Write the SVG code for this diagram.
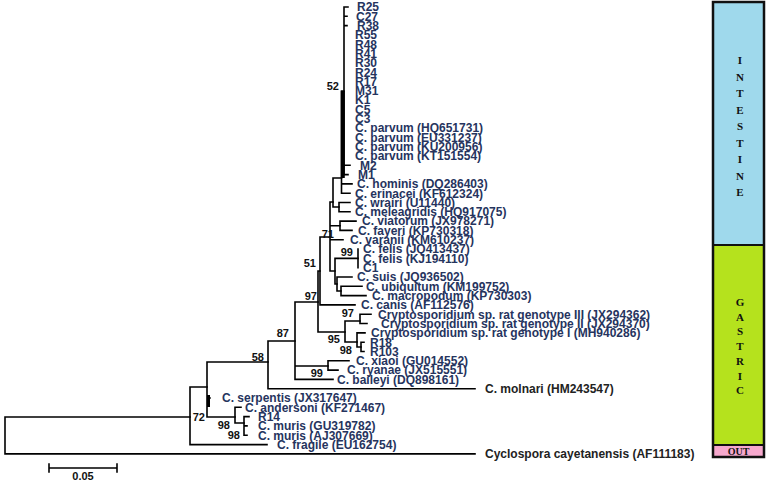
<svg xmlns="http://www.w3.org/2000/svg" width="766" height="482" viewBox="0 0 766 482">
<style>
.t{font-family:"Liberation Sans",Arial,sans-serif;font-weight:bold;font-size:12px;fill:#26345e}
.o{font-family:"Liberation Sans",Arial,sans-serif;font-weight:bold;font-size:12px;fill:#222}
.b{font-family:"Liberation Sans",Arial,sans-serif;font-weight:bold;font-size:11px;fill:#111;text-anchor:end}
.e{fill:none;stroke:#000;stroke-width:1.6;stroke-linecap:square}
.p{font-family:"Liberation Serif","Times New Roman",serif;font-weight:bold;font-size:11px;fill:#111;text-anchor:middle}
</style>
<rect width="766" height="482" fill="#fff"/>
<g id="connectors">
<path class="e" d="M5,417V454M5,417H190M5,453.9H475"/>
<path class="e" d="M190,387V444.6M190,444.6H267M190,387H207"/>
<path class="e" d="M207,362V417M207,362H268M207,417H235M207,398H210"/>
<path d="M208.5,395V407" stroke="#000" stroke-width="3"/>
<path class="e" d="M235,407.3V423M235,407.3H241M235,423H244"/>
<path class="e" d="M244,416.6V435.3M244,416.6H249M244,425.9H247M244,435.3H247"/>
<path class="e" d="M268,341V388.7M268,388.7H475M268,341H295"/>
<path class="e" d="M295,302V379.4M295,302H318M295,366H328M295,379.4H333"/>
<path class="e" d="M328,360.8V370.1M328,360.8H349M328,370.1H338"/>
<path class="e" d="M318,271V332M318,332H345M318,271H320"/>
<path class="e" d="M320,237V304.9M320,304.9H355M320,237H330"/>
<path class="e" d="M345,321V342M345,321H360M345,342H357"/>
<path class="e" d="M360,314.2V323.5M360,314.2H371M360,323.5H367"/>
<path class="e" d="M357,332.9V347M357,332.9H365M357,347H361"/>
<path class="e" d="M361,342.2V351.5M361,342.2H364M361,351.5H364"/>
<path class="e" d="M330,202V271M330,202H333M330,225.8H340M330,239.8H343M330,271H335"/>
<path class="e" d="M333,178V207M333,178H341.5M333,207H339"/>
<path class="e" d="M339,202.5V211.8M339,202.5H350M339,211.8H350"/>
<path class="e" d="M341.5,91V193.2M341.5,91H344M341.5,183.9H352M341.5,193.2H350"/>
<path class="e" d="M344,7V174.6M344,7H348M344,16.3H347M344,25.6H347M344,165.3H350M344,174.6H348"/>
<path d="M342.8,91V178" stroke="#000" stroke-width="4"/>
<path class="e" d="M340,221.1V230.4M340,221.1H356M340,230.4H352"/>
<path class="e" d="M335,258.4V284M335,258.4H358M335,284H337"/>
<path class="e" d="M358,249.1V267.7"/>
<path class="e" d="M337,277V291M337,277H352M337,291H341"/>
<path class="e" d="M341,286.3V295.6M341,286.3H362M341,295.6H366"/>
</g>
<g id="leaves">
<g id="n-R25"><text class="t" x="357" y="11.3">R25</text></g>
<g id="n-C27"><text class="t" x="356" y="20.6">C27</text></g>
<g id="n-R38"><text class="t" x="357" y="29.9">R38</text></g>
<g id="n-R55"><text class="t" x="355" y="39.2">R55</text></g>
<g id="n-R48"><text class="t" x="355" y="48.5">R48</text></g>
<g id="n-R41"><text class="t" x="355" y="57.9">R41</text></g>
<g id="n-R30"><text class="t" x="355" y="67.2">R30</text></g>
<g id="n-R24"><text class="t" x="355" y="76.5">R24</text></g>
<g id="n-R17"><text class="t" x="355" y="85.8">R17</text></g>
<g id="n-M31"><text class="t" x="355" y="95.1">M31</text></g>
<g id="n-K1"><text class="t" x="355" y="104.4">K1</text></g>
<g id="n-C5"><text class="t" x="355" y="113.7">C5</text></g>
<g id="n-C3"><text class="t" x="355" y="123">C3</text></g>
<g id="n-parvum1"><text class="t" x="355" y="132.3">C. parvum (HQ651731)</text></g>
<g id="n-parvum2"><text class="t" x="355" y="141.6">C. parvum (EU331237)</text></g>
<g id="n-parvum3"><text class="t" x="355" y="151">C. parvum (KU200956)</text></g>
<g id="n-parvum4"><text class="t" x="355" y="160.3">C. parvum (KT151554)</text></g>
<g id="n-M2"><text class="t" x="360" y="169.6">M2</text></g>
<g id="n-M1"><text class="t" x="358" y="178.9">M1</text></g>
<g id="n-hominis"><text class="t" x="357" y="188.2">C. hominis (DQ286403)</text></g>
<g id="n-erinacei"><text class="t" x="355" y="197.5">C. erinacei (KF612324)</text></g>
<g id="n-wrairi"><text class="t" x="355" y="206.8">C. wrairi (U11440)</text></g>
<g id="n-meleagridis"><text class="t" x="355" y="216.1">C. meleagridis (HQ917075)</text></g>
<g id="n-viatorum"><text class="t" x="362" y="225.4">C. viatorum (JX978271)</text></g>
<g id="n-fayeri"><text class="t" x="358" y="234.7">C. fayeri (KP730318)</text></g>
<g id="n-varanii"><text class="t" x="350" y="244.1">C. varanii (KM610237)</text></g>
<g id="n-felis1"><text class="t" x="363" y="253.4">C. felis (JQ413437)</text></g>
<g id="n-felis2"><text class="t" x="363" y="262.7">C. felis (KJ194110)</text></g>
<g id="n-C1"><text class="t" x="363" y="272">C1</text></g>
<g id="n-suis"><text class="t" x="357" y="281.3">C. suis (JQ936502)</text></g>
<g id="n-ubiquitum"><text class="t" x="366" y="290.6">C. ubiquitum (KM199752)</text></g>
<g id="n-macropodum"><text class="t" x="372" y="299.9">C. macropodum (KP730303)</text></g>
<g id="n-canis"><text class="t" x="361" y="309.2">C. canis (AF112576)</text></g>
<g id="n-ratIII"><text class="t" x="378" y="318.5">Cryptosporidium sp. rat genotype III (JX294362)</text></g>
<g id="n-ratII"><text class="t" x="381" y="327.8">Cryptosporidium sp. rat genotype II (JX294370)</text></g>
<g id="n-ratI"><text class="t" x="371" y="337.2">Cryptosporidium sp. rat genotype I (MH940286)</text></g>
<g id="n-R18"><text class="t" x="370" y="346.5">R18</text></g>
<g id="n-R103"><text class="t" x="370" y="355.8">R103</text></g>
<g id="n-xiaoi"><text class="t" x="356" y="365.1">C. xiaoi (GU014552)</text></g>
<g id="n-ryanae"><text class="t" x="347" y="374.4">C. ryanae (JX515551)</text></g>
<g id="n-baileyi"><text class="t" x="337" y="383.7">C. baileyi (DQ898161)</text></g>
<g id="n-molnari"><text class="o" x="485" y="393">C. molnari (HM243547)</text></g>
<g id="n-serpentis"><text class="t" x="222" y="402.3">C. serpentis (JX317647)</text></g>
<g id="n-andersoni"><text class="t" x="245" y="411.6">C. andersoni (KF271467)</text></g>
<g id="n-R14"><text class="t" x="258" y="420.9">R14</text></g>
<g id="n-muris1"><text class="t" x="258" y="430.2">C. muris (GU319782)</text></g>
<g id="n-muris2"><text class="t" x="258" y="439.6">C. muris (AJ307669)</text></g>
<g id="n-fragile"><text class="t" x="277" y="448.9">C. fragile (EU162754)</text></g>
<g id="n-cyclospora"><text class="o" x="485" y="458.2">Cyclospora cayetanensis (AF111183)</text></g>
</g>
<g id="bootstrap">
<g id="bs-52"><text class="b" x="339" y="90">52</text></g>
<g id="bs-71"><text class="b" x="334" y="237.5">71</text></g>
<g id="bs-99a"><text class="b" x="353" y="256">99</text></g>
<g id="bs-51"><text class="b" x="316" y="267">51</text></g>
<g id="bs-97a"><text class="b" x="317" y="299.5">97</text></g>
<g id="bs-97b"><text class="b" x="354" y="317">97</text></g>
<g id="bs-95"><text class="b" x="340" y="343">95</text></g>
<g id="bs-98a"><text class="b" x="352" y="354">98</text></g>
<g id="bs-87"><text class="b" x="289" y="337">87</text></g>
<g id="bs-99b"><text class="b" x="323" y="377">99</text></g>
<g id="bs-58"><text class="b" x="264" y="360.5">58</text></g>
<g id="bs-72"><text class="b" x="205" y="421">72</text></g>
<g id="bs-98b"><text class="b" x="230" y="429">98</text></g>
<g id="bs-98c"><text class="b" x="240" y="439">98</text></g>
</g>
<g id="scale">
<path class="e" d="M49,468H117M49,464V472M117,464V472"/>
<text class="b" x="83" y="480" style="text-anchor:middle">0.05</text>
</g>
<g id="panel">
<rect x="713" y="2" width="51" height="243" fill="#9fd9ec"/>
<rect x="713" y="245" width="51" height="200" fill="#b5e21d"/>
<rect x="713" y="445" width="51" height="12" fill="#f6a8cd"/>
<path d="M713,245H764M713,445H764" stroke="#111" stroke-width="2"/>
<rect x="713" y="2" width="51" height="455" fill="none" stroke="#111" stroke-width="2.5"/>
<g id="intestine">
<text class="p" x="740" y="64">I</text>
<text class="p" x="740" y="80.5">N</text>
<text class="p" x="740" y="97">T</text>
<text class="p" x="740" y="113.5">E</text>
<text class="p" x="740" y="130">S</text>
<text class="p" x="740" y="146.5">T</text>
<text class="p" x="740" y="163">I</text>
<text class="p" x="740" y="179.5">N</text>
<text class="p" x="740" y="196">E</text>
</g>
<g id="gastric">
<text class="p" x="740" y="306">G</text>
<text class="p" x="740" y="320.7">A</text>
<text class="p" x="740" y="335.4">S</text>
<text class="p" x="740" y="350.1">T</text>
<text class="p" x="740" y="364.8">R</text>
<text class="p" x="740" y="379.5">I</text>
<text class="p" x="740" y="394.2">C</text>
</g>
<g id="out"><text class="p" x="738.5" y="455" style="font-size:10px">OUT</text></g>
</g>
</svg>
